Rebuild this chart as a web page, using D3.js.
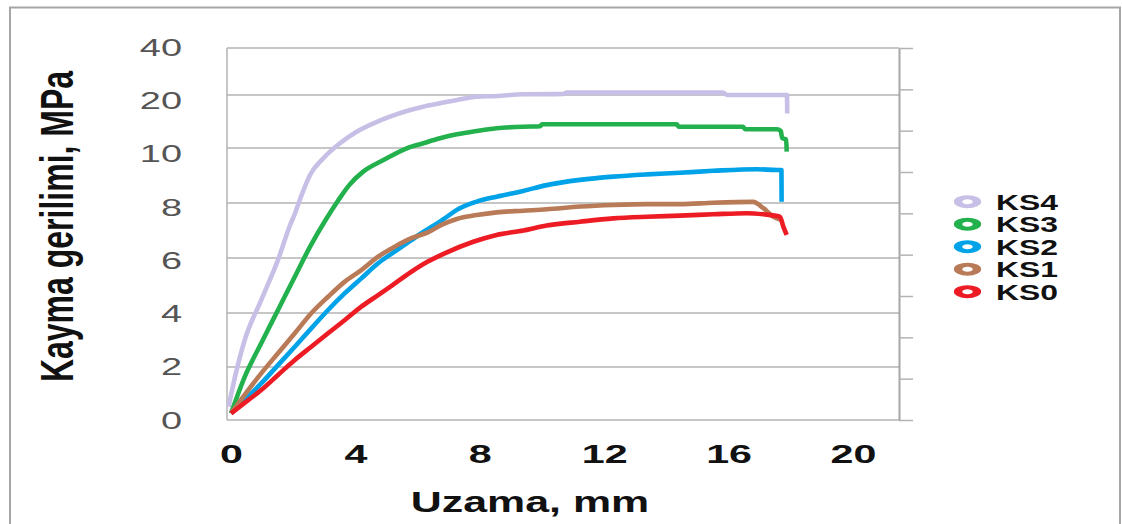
<!DOCTYPE html>
<html>
<head>
<meta charset="utf-8">
<script src="https://cdn.jsdelivr.net/npm/d3@7"></script>
<style>
  body { margin: 0; background: #fff; }
  svg { display: block; }
  .grid line { stroke: #b3b3b3; stroke-width: 1.5; }
  .ytick text { font-family: "Liberation Sans", Arial, sans-serif; font-size: 23px; fill: #555; }
  .xtick text { font-family: "Liberation Sans", Arial, sans-serif; font-size: 25px; font-weight: bold; fill: #111; }
  .title { font-family: "Liberation Sans", Arial, sans-serif; font-weight: bold; fill: #111; }
  .legend text { font-family: "Liberation Sans", Arial, sans-serif; font-size: 22px; font-weight: bold; fill: #111; }
  .series { fill: none; stroke-width: 4.6; stroke-linejoin: round; }
</style>
</head>
<body>
<svg id="chart" width="1122" height="524"></svg>
<script>
// y axis tick labels (the axis is stretched piece by piece, not linear)
const yTicks = [0, 2, 4, 6, 8, 10, 20, 40]
const xTicks = [0, 4, 8, 12, 16, 20]
const seriesNames = ["KS4", "KS3", "KS2", "KS1", "KS0"]

// [uzama mm, kayma gerilimi MPa]
const ks4 = [[-0.08, 0.5], [0.01, 1.01], [0.44, 3.0], [0.97, 4.47], [1.51, 5.93], [1.9, 7.2], [2.05, 7.6],
  [2.24, 8.2], [2.54, 9.02], [2.97, 9.63], [3.5, 10.89], [4.04, 13.08], [4.58, 14.66], [5.11, 15.91],
  [5.65, 16.98], [6.18, 17.79], [6.72, 18.43], [7.26, 19.06], [7.9, 19.68], [8.54, 19.81], [9.4, 20.3],
  [10.68, 20.4], [10.8, 21.0], [15.82, 21.0], [15.95, 20.0], [17.88, 20.0], [17.885, 16.5]]
const ks3 = [[0, 0.25], [0.44, 1.63], [0.97, 2.88], [1.51, 4.11], [2.05, 5.32], [2.56, 6.45], [3.05, 7.4],
  [3.45, 8.1], [3.8, 8.65], [4.25, 9.14], [4.9, 9.56], [5.65, 9.99], [6.18, 10.89], [6.72, 11.83],
  [7.26, 12.58], [7.9, 13.21], [8.54, 13.72], [9.4, 14.02], [9.94, 14.1], [10.0, 14.47], [14.33, 14.47],
  [14.4, 14.02], [16.46, 14.02], [16.53, 13.53], [17.55, 13.53], [17.68, 13.2], [17.72, 11.9],
  [17.85, 11.6], [17.87, 9.87]]
const ks2 = [[0, 0.25], [0.55, 0.88], [0.97, 1.38], [1.51, 2.07], [2.05, 2.75], [2.58, 3.43], [3.12, 4.11],
  [3.66, 4.72], [4.19, 5.26], [4.73, 5.81], [5.26, 6.23], [5.8, 6.65], [6.12, 6.9], [6.55, 7.2],
  [6.87, 7.44], [7.26, 7.75], [7.9, 8.05], [8.54, 8.23], [9.4, 8.44], [10.15, 8.65], [11.22, 8.84],
  [12.29, 8.96], [13.37, 9.04], [14.44, 9.1], [15.51, 9.17], [16.9, 9.23], [17.55, 9.2], [17.7, 9.2],
  [17.705, 8.05]]
const ks1 = [[0, 0.25], [0.55, 1.13], [0.97, 1.76], [1.51, 2.51], [2.05, 3.25], [2.58, 3.99], [3.12, 4.59],
  [3.66, 5.14], [4.19, 5.56], [4.73, 6.05], [5.26, 6.41], [5.8, 6.72], [6.33, 6.93], [6.8, 7.22],
  [7.26, 7.42], [7.9, 7.56], [8.54, 7.66], [9.4, 7.72], [10.15, 7.77], [11.22, 7.87], [12.29, 7.93],
  [13.37, 7.96], [14.44, 7.96], [15.51, 8.01], [16.79, 8.04], [17.12, 7.81], [17.44, 7.5], [17.71, 7.38]]
const ks0 = [[0, 0.25], [0.55, 0.75], [0.97, 1.13], [1.51, 1.7], [2.05, 2.26], [2.58, 2.75], [3.12, 3.25],
  [3.66, 3.74], [4.19, 4.23], [4.73, 4.65], [5.26, 5.07], [5.8, 5.5], [6.33, 5.87], [6.87, 6.17],
  [7.79, 6.59], [8.54, 6.84], [9.4, 7.0], [10.15, 7.18], [11.22, 7.32], [12.29, 7.44], [13.37, 7.5],
  [14.44, 7.54], [15.51, 7.59], [16.58, 7.63], [17.12, 7.59], [17.65, 7.5], [17.76, 7.14], [17.87, 6.84]]

const seriesData = [ks4, ks3, ks2, ks1, ks0]
const colors = { KS4: "#c8bfe7", KS3: "#22b14c", KS2: "#00a2e8", KS1: "#b97a57", KS0: "#ed1c24" }

const svg = d3.select("#chart")

// plot box
const L = 227, R = 899, T = 48, B = 420

// outer frame
svg.append("rect").attr("x", 10).attr("y", 7.5).attr("width", 1110).attr("height", 540)
  .attr("fill", "none").attr("stroke", "#a6a6a6").attr("stroke-width", 2)

const x = d3.scaleLinear().domain([-0.13, 21.48]).range([L, R])
const y = d3.scaleLinear().domain(yTicks).range([420, 367, 313, 258, 203, 148, 95, 48])
const yLab = d3.scalePoint().domain(yTicks).range([B, T - 1])

// gridlines
svg.append("g").attr("class", "grid")
  .selectAll("line").data(yTicks).enter().append("line")
  .attr("x1", L).attr("x2", R).attr("y1", (d) => y(d)).attr("y2", (d) => y(d))
svg.append("line").attr("x1", L).attr("x2", L).attr("y1", T).attr("y2", B)
  .attr("stroke", "#b3b3b3").attr("stroke-width", 1.5)

// right axis, ticks only
const yRight = d3.scaleLinear().domain([0, 9]).range([B, T])
const gRight = svg.append("g").attr("transform", `translate(${R},0)`)
  .call(d3.axisRight(yRight).ticks(9).tickSize(14).tickSizeOuter(0).tickFormat(""))
gRight.select(".domain").attr("stroke", "#a6a6a6").attr("stroke-width", 2)
gRight.selectAll(".tick line").attr("stroke", "#b3b3b3").attr("stroke-width", 1.5)

// left labels
const gY = svg.append("g").attr("class", "ytick").attr("transform", "translate(182,0)")
  .call(d3.axisLeft(yLab).tickSize(0).tickPadding(0))
gY.select(".domain").remove()
gY.selectAll("text").attr("x", 0).attr("dy", "0.36em").attr("transform", "scale(1.65,1)")

// bottom labels
const gX = svg.append("g").attr("class", "xtick").attr("transform", "translate(0,463)")
  .call(d3.axisBottom(x).tickValues(xTicks).tickSize(0).tickFormat(d3.format("d")))
gX.select(".domain").remove()
gX.selectAll("text").attr("y", 0).attr("dy", null).attr("transform", "scale(1.65,1)")

// titles
svg.append("text").attr("class", "title").attr("font-size", 30)
  .attr("text-anchor", "middle").attr("transform", "translate(530,511.5) scale(1.43,1)")
  .text("Uzama, mm")
svg.append("text").attr("class", "title").attr("font-size", 32)
  .attr("text-anchor", "middle").attr("transform", "translate(73,226.5) rotate(-90) scale(1,1.45)")
  .text("Kayma gerilimi, MPa")

// curves
const line = d3.line().curve(d3.curveMonotoneX).x((d) => x(d[0])).y((d) => y(d[1]))
svg.append("g").selectAll("path").data(seriesData).enter().append("path")
  .attr("class", "series")
  .attr("stroke", (d, i) => colors[seriesNames[i]])
  .attr("d", line)

// legend
const ly = d3.scalePoint().domain(seriesNames).range([201.7, 291.7])
const lg = svg.append("g").attr("class", "legend")
  .selectAll("g").data(seriesNames).enter().append("g")
  .attr("transform", (d) => `translate(0,${ly(d)})`)
lg.append("circle").attr("r", 4.5).attr("fill", "#fff")
  .attr("stroke", (d) => colors[d]).attr("stroke-width", 4)
  .attr("transform", "translate(967.5,0) scale(2.1,1)")
lg.append("text").attr("transform", "translate(996,8) scale(1.45,1)").text((d) => d)
</script>
</body>
</html>
